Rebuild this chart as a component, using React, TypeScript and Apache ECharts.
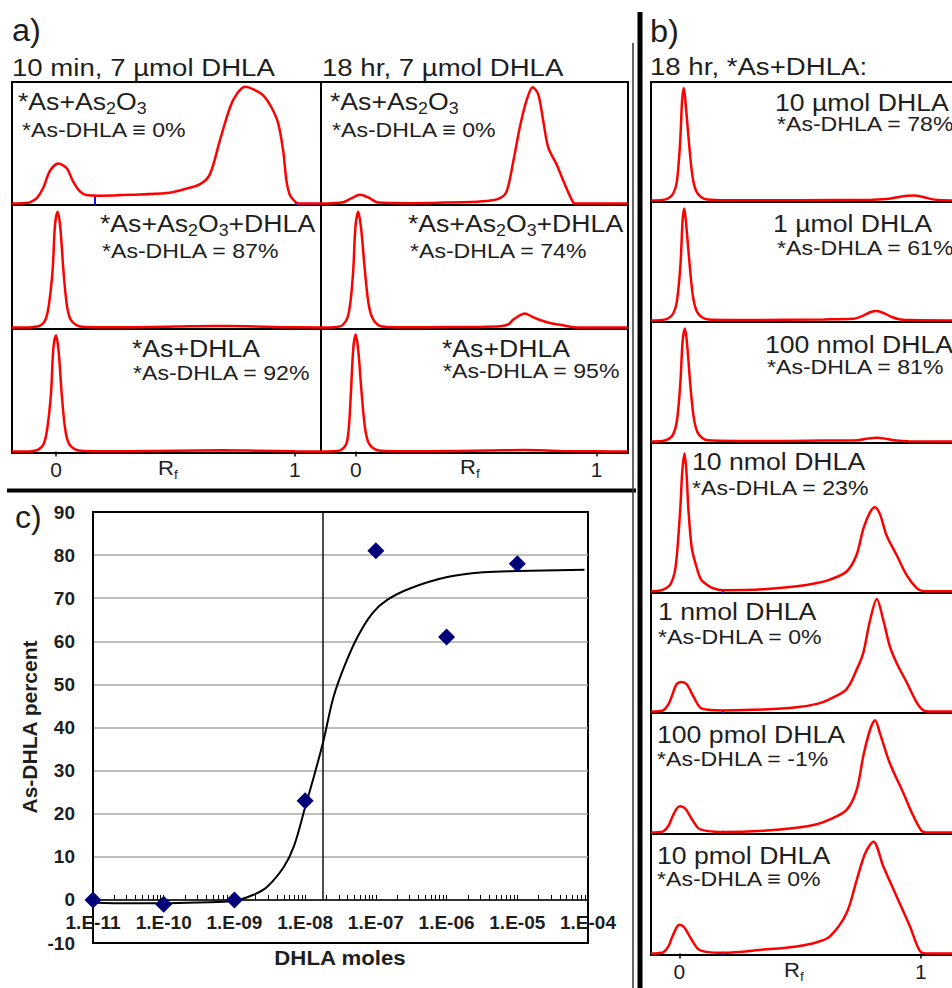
import React, { useEffect, useRef } from 'react';
import * as echarts from 'echarts';

const FONT = '"Liberation Sans", Arial, Helvetica, sans-serif';
const TEXT = '#1e1e1e';
const RED = '#ff0000';

// ---------- a) chromatograms  [Rf, relative intensity %] ----------
const trace10minAsAs2O3 = [[-0.184,0],[-0.13,0.5],[-0.109,1],[-0.08,4.5],[-0.053,13],[-0.025,27],[0.01,33],[0.045,29],[0.072,18],[0.1,10],[0.128,7],[0.184,6.5],[0.32,7.2],[0.463,8.6],[0.53,11.4],[0.603,16],[0.644,24],[0.686,52],[0.728,79],[0.756,90],[0.791,96],[0.826,94],[0.867,89],[0.902,79],[0.93,66],[0.951,43],[0.965,18],[0.979,7],[1.0,1.7],[1.014,0],[1.109,0]];
const trace10minAsAs2O3DHLA = [[-0.184,0],[-0.1,0.3],[-0.067,1.5],[-0.045,6],[-0.03,18],[-0.014,47],[-0.004,84],[0.007,94.5],[0.018,82],[0.031,47],[0.045,19],[0.06,7],[0.087,1.8],[0.12,0.5],[0.3,0.3],[0.5,0.8],[0.65,1.3],[0.8,1.0],[0.95,0.3],[1.109,0]];
const trace10minAsDHLA = [[-0.184,0],[-0.1,0.3],[-0.074,1.5],[-0.052,6],[-0.037,18],[-0.021,47],[-0.011,84],[0,95],[0.011,82],[0.024,47],[0.038,19],[0.053,7],[0.08,1.8],[0.12,0.5],[0.3,0.3],[0.5,0.7],[0.7,1.0],[0.85,0.6],[1.0,0.2],[1.109,0]];
const trace18hrAsAs2O3 = [[-0.145,0],[-0.1,0.3],[-0.053,1],[-0.018,4.4],[0.017,7.2],[0.051,5],[0.093,0.8],[0.224,0.3],[0.432,1],[0.543,2],[0.598,4.4],[0.626,10],[0.654,35],[0.681,63],[0.709,85],[0.734,95.6],[0.757,90],[0.778,68],[0.799,46],[0.834,32],[0.868,15.6],[0.903,0.8],[0.917,0],[1.13,0]];
const trace18hrAsAs2O3DHLA = [[-0.145,0],[-0.08,0.5],[-0.055,2],[-0.035,8],[-0.022,22],[-0.011,47],[-0.002,82],[0.01,94.5],[0.022,80],[0.037,47],[0.052,20],[0.068,8],[0.093,2],[0.13,0.5],[0.3,0.3],[0.5,0.5],[0.6,1],[0.633,2.5],[0.654,6.5],[0.68,10],[0.702,11.5],[0.73,9],[0.771,5.7],[0.81,3.5],[0.855,2],[0.896,0.5],[0.95,0],[1.13,0]];
const trace18hrAsDHLA = [[-0.145,0],[-0.08,0.4],[-0.06,1.5],[-0.04,6],[-0.03,18],[-0.021,47],[-0.011,84],[-0.001,95.5],[0.01,82],[0.024,47],[0.038,19],[0.053,7],[0.08,1.8],[0.12,0.5],[0.3,0.3],[0.55,0.8],[0.7,1.2],[0.85,0.5],[1.0,0.2],[1.13,0]];

// ---------- b) chromatograms ----------
const trace10umol = [[-0.117,0],[-0.07,0.5],[-0.045,2],[-0.025,6],[-0.01,16],[0.003,47],[0.012,85],[0.019,95],[0.028,78],[0.041,47],[0.055,20],[0.07,8],[0.09,3],[0.115,1],[0.2,0.3],[0.5,0.3],[0.8,0.8],[0.87,1.5],[0.92,3.5],[0.97,4.2],[1.01,3],[1.05,1],[1.09,0.3],[1.208,0]];
const trace1umol = [[-0.117,0],[-0.07,0.5],[-0.045,2],[-0.025,6],[-0.01,16],[0.005,47],[0.014,85],[0.021,94.5],[0.03,78],[0.043,47],[0.057,20],[0.072,8],[0.092,3],[0.12,1],[0.3,0.5],[0.6,1],[0.72,1.5],[0.76,4],[0.79,7],[0.818,8],[0.85,6],[0.88,3],[0.91,1.2],[0.96,0.4],[1.208,0]];
const trace100nmol = [[-0.117,0],[-0.07,0.5],[-0.045,2],[-0.025,6],[-0.01,17],[0.004,47],[0.014,84],[0.024,94.5],[0.033,80],[0.046,47],[0.06,20],[0.075,8],[0.095,3],[0.12,1],[0.3,0.4],[0.6,0.8],[0.74,1.2],[0.78,2.5],[0.818,3.2],[0.86,2.2],[0.9,0.8],[0.95,0.3],[1.208,0]];
const trace10nmol = [[-0.117,0],[-0.079,0.5],[-0.055,2],[-0.037,4.5],[-0.02,12],[-0.01,24],[0.004,55],[0.013,82],[0.022,93],[0.03,80],[0.038,55],[0.052,29],[0.073,15.5],[0.09,8],[0.114,4.4],[0.14,2],[0.182,0.7],[0.347,1.3],[0.486,3.3],[0.57,5.5],[0.624,7.8],[0.693,13.3],[0.734,24.4],[0.762,42],[0.789,53],[0.81,56.7],[0.831,52],[0.858,37.8],[0.9,24.4],[0.941,11],[0.982,2.2],[1.01,0],[1.208,0]];
const trace1nmol = [[-0.117,0],[-0.09,0.3],[-0.066,1],[-0.045,6],[-0.031,13],[-0.011,23],[0.01,25],[0.031,23],[0.058,13],[0.086,3.6],[0.12,1.5],[0.182,1],[0.348,1.7],[0.486,3.6],[0.57,6.5],[0.624,10.6],[0.693,19],[0.735,35.6],[0.762,49.5],[0.79,77],[0.818,95],[0.845,77],[0.872,55],[0.9,41],[0.942,24.5],[0.983,7.8],[1.011,1],[1.04,0],[1.208,0]];
const trace100pmol = [[-0.117,0],[-0.09,0.3],[-0.066,1],[-0.045,5.5],[-0.031,12],[-0.011,20],[0.004,22],[0.025,20],[0.05,12],[0.08,3.5],[0.12,1.2],[0.182,0.5],[0.348,1.5],[0.486,4],[0.57,7],[0.624,11],[0.693,19],[0.735,36],[0.762,64],[0.79,86],[0.811,94],[0.831,83],[0.872,58],[0.928,33],[0.969,14],[1.004,1.4],[1.03,0],[1.208,0]];
const trace10pmol = [[-0.117,0],[-0.09,0.3],[-0.066,1],[-0.045,6],[-0.031,13],[-0.011,22],[0.0,24],[0.02,22],[0.05,12],[0.08,3.5],[0.12,1.2],[0.182,0.6],[0.348,3.3],[0.486,6],[0.57,9.5],[0.624,14.4],[0.693,34],[0.735,61.7],[0.77,84],[0.804,93.6],[0.845,72.8],[0.9,47.8],[0.955,22.8],[0.997,2],[1.03,0],[1.208,0]];

const rfTickValues = [0, 1];

// ---------- c) dose response ----------
const dhlaMoles = [1e-11, 1e-10, 1e-9, 1e-8, 1e-7, 1e-6, 1e-5];
const asDhlaPercent = [0, -1, 0, 23, 81, 61, 78];
const fitLog10Moles = [-11, -10.5, -10, -9.5, -9, -8.73, -8.54, -8.3, -8.16, -8, -7.87, -7.74, -7.6, -7.45, -7.26, -7.05, -6.84, -6.51, -5.99, -5.48, -5, -4.05];
const fitPercent = [-0.6, -0.8, -0.8, -0.6, -0.2, 1.2, 3, 7.7, 12.4, 21.5, 29, 37, 47, 54, 61, 66.5, 69.6, 72.3, 74.9, 76, 76.3, 76.6];
const midpointMoles = 1.8e-8;
const xDecades = [-11, -10, -9, -8, -7, -6, -5, -4];
const xTickLabels = ['1.E-11', '1.E-10', '1.E-09', '1.E-08', '1.E-07', '1.E-06', '1.E-05', '1.E-04'];
const minorMultipliers = [1, 2, 3, 4, 5, 6, 7, 8, 9];
const yMin = -10;
const yMax = 90;

// ---------- labels ----------
const headA = ['10 min, 7 µmol DHLA', '18 hr, 7 µmol DHLA'];
const headB = '18 hr, *As+DHLA:';
const aLine1 = ['{m|*As+As}{s|2}{m|O}{s|3}', '{m|*As+As}{s|2}{m|O}{s|3}{m|+DHLA}', '{m|*As+DHLA}'];
const aLine2Left = ['*As-DHLA ≡ 0%', '*As-DHLA = 87%', '*As-DHLA = 92%'];
const aLine2Right = ['*As-DHLA ≡ 0%', '*As-DHLA = 74%', '*As-DHLA = 95%'];
const bLine1 = ['10 µmol DHLA', '1 µmol DHLA', '100 nmol DHLA', '10 nmol DHLA', '1 nmol DHLA', '100 pmol DHLA', '10 pmol DHLA'];
const bLine2 = ['*As-DHLA = 78%', '*As-DHLA = 61%', '*As-DHLA = 81%', '*As-DHLA = 23%', '*As-DHLA = 0%', '*As-DHLA = -1%', '*As-DHLA ≡ 0%'];

// ---------- layout ----------
const aCols = [
  { left: 12, width: 309, xmin: -0.184, xmax: 1.109, traces: [trace10minAsAs2O3, trace10minAsAs2O3DHLA, trace10minAsDHLA] },
  { left: 321, width: 307, xmin: -0.145, xmax: 1.13, traces: [trace18hrAsAs2O3, trace18hrAsAs2O3DHLA, trace18hrAsDHLA] },
];
const aRows = [{ top: 82, height: 123 }, { top: 205, height: 124 }, { top: 329, height: 124 }];
const aTextPos = [
  [[18, 101, 22, 130], [100, 223, 102, 250.5], [132, 348, 133, 372.5]],
  [[330, 101, 332, 129.5], [408, 223, 410, 250.5], [442, 348, 443, 371]],
];
const bCol = { left: 651, width: 320, xmin: -0.117, xmax: 1.208 };
const bRows = [[82, 120], [202, 120], [322, 121], [443, 150], [593, 120], [713, 121], [834, 121]];
const bTraces = [trace10umol, trace1umol, trace100nmol, trace10nmol, trace1nmol, trace100pmol, trace10pmol];
const bTextPos = [[775, 102.5, 777, 123.5], [773, 223, 777, 247.5], [765, 344, 767, 366.5], [692, 461.5, 692, 487.5], [658, 611.5, 658, 636.5], [657, 734.5, 657, 758.5], [657, 855, 657, 878.5]];
const cGrid = { left: 93, top: 512, width: 495, height: 431 };

function txt(x: number, y: number, text: string, size: number, sx: number, extra: any = {}) {
  return {
    type: 'text', x, y, scaleX: sx, scaleY: 1, z: 100, silent: true,
    style: {
      text, fontSize: size, fontFamily: FONT, fill: TEXT,
      align: 'left', verticalAlign: 'middle', textAlign: 'left', textVerticalAlign: 'middle',
      ...extra,
    },
  };
}
function richLine(x: number, y: number, text: string, size: number, subSize: number, sx: number, lh: number, extra: any = {}) {
  return txt(x, y, text, size, sx, {
    rich: {
      m: { fontSize: size, fontFamily: FONT, fill: TEXT, lineHeight: lh, verticalAlign: 'middle' },
      s: { fontSize: subSize, fontFamily: FONT, fill: TEXT, verticalAlign: 'bottom' },
      r: { fontSize: size, fontFamily: FONT, fill: TEXT, lineHeight: lh, verticalAlign: 'middle' },
      f: { fontSize: subSize, fontFamily: FONT, fill: TEXT, verticalAlign: 'bottom' },
    },
    ...extra,
  });
}

function buildOption() {
  const grid: any[] = [];
  const xAxis: any[] = [];
  const yAxis: any[] = [];
  const series: any[] = [];
  const graphics: any[] = [];

  const addTracePanel = (left: number, top: number, width: number, height: number, xmin: number, xmax: number, data: number[][], bottom: boolean, marks: any[]) => {
    const i = grid.length;
    grid.push({ left, top, width, height, show: true, borderColor: '#000', borderWidth: 2, backgroundColor: 'transparent', outerBoundsMode: 'none', containLabel: false });
    xAxis.push({
      gridIndex: i, type: 'value', min: xmin, max: xmax,
      axisLine: { show: false }, splitLine: { show: false },
      axisTick: { show: bottom, customValues: rfTickValues, length: 5, inside: false, lineStyle: { color: '#000', width: 1.5 } },
      axisLabel: { show: bottom, customValues: rfTickValues, margin: 6, fontSize: 21, color: TEXT, fontFamily: FONT },
    });
    yAxis.push({ gridIndex: i, type: 'value', min: -1.2, max: 100, show: false, splitLine: { show: false } });
    series.push({
      type: 'line', xAxisIndex: i, yAxisIndex: i, data, symbol: 'none', showSymbol: false,
      smooth: 0.3, silent: true, lineStyle: { color: RED, width: 2.5 }, z: 5,
      markLine: marks.length ? { silent: true, symbol: ['none', 'none'], label: { show: false }, lineStyle: { color: '#1010ff', width: 2, type: 'solid' }, data: marks } : undefined,
    });
  };

  // panel a
  aCols.forEach((col, ci) => {
    aRows.forEach((row, ri) => {
      const marks = ci === 0 && ri === 0
        ? [[{ coord: [0.163, -1] }, { coord: [0.163, 6] }], [{ coord: [1.0, -0.3] }, { coord: [1.109, -0.3] }]]
        : [];
      addTracePanel(col.left, row.top, col.width, row.height, col.xmin, col.xmax, col.traces[ri], ri === 2, marks);
      const p = aTextPos[ci][ri];
      graphics.push(richLine(p[0], p[1], aLine1[ri], 24, 16, 1.11, 32));
      graphics.push(txt(p[2], p[3], (ci === 0 ? aLine2Left : aLine2Right)[ri], 21, 1.1));
    });
  });
  // panel b
  bRows.forEach((row, ri) => {
    const marks = ri >= 3 ? [[{ coord: [0.18, -1.2] }, { coord: [0.18, 1.5] }]] : [];
    addTracePanel(bCol.left, row[0], bCol.width, row[1], bCol.xmin, bCol.xmax, bTraces[ri], ri === 6, marks);
    const p = bTextPos[ri];
    graphics.push(txt(p[0], p[1], bLine1[ri], 24, 1.11));
    graphics.push(txt(p[2], p[3], bLine2[ri], 21, 1.1));
  });

  // panel c
  const ci = grid.length;
  grid.push({ ...cGrid, show: true, borderColor: '#000', borderWidth: 2, backgroundColor: 'transparent', outerBoundsMode: 'none', containLabel: false });
  const tickVals: number[] = [];
  xDecades.forEach((d) => {
    minorMultipliers.forEach((m) => {
      const v = m * Math.pow(10, d);
      if (v <= 1.0001e-4) tickVals.push(v);
    });
  });
  // x axis drawn at y = 0 : shift the bottom axis up by the height of (0 - yMin)
  const zeroOffset = -cGrid.height * (0 - yMin) / (yMax - yMin);
  xAxis.push({
    gridIndex: ci, type: 'log', logBase: 10, min: 1e-11, max: 1e-4, z: 4,
    position: 'bottom', offset: zeroOffset,
    axisLine: { show: true, onZero: false, lineStyle: { color: '#000', width: 1.5 } },
    axisTick: { show: true, inside: true, length: 5, customValues: tickVals, lineStyle: { color: '#000', width: 1 } },
    axisLabel: {
      show: true, customValues: xDecades.map((d) => Math.pow(10, d)), margin: 13, fontSize: 19, fontWeight: 'bold', color: TEXT, fontFamily: FONT,
      formatter: (v: number) => xTickLabels[Math.round(Math.log10(v)) - xDecades[0]] ?? '',
    },
    splitLine: { show: false }, minorTick: { show: false },
  });
  yAxis.push({
    gridIndex: ci, type: 'value', min: yMin, max: yMax, interval: 10,
    axisLine: { show: true, onZero: false, lineStyle: { color: '#000', width: 2 } },
    axisTick: { show: false },
    axisLabel: { margin: 18, fontSize: 19, fontWeight: 'bold', color: TEXT, fontFamily: FONT },
    splitLine: { show: true, showMinLine: false, showMaxLine: false, lineStyle: { color: '#a8a8a8', width: 1.5 } },
  });
  series.push({
    type: 'line', xAxisIndex: ci, yAxisIndex: ci, smooth: 0.35, symbol: 'none', showSymbol: false, silent: true, z: 6,
    data: fitLog10Moles.map((e, i) => [Math.pow(10, e), fitPercent[i]]),
    lineStyle: { color: '#000', width: 2 },
    markLine: { silent: true, symbol: ['none', 'none'], label: { show: false }, lineStyle: { color: '#111', width: 1.5, type: 'solid' }, data: [[{ coord: [midpointMoles, 90] }, { coord: [midpointMoles, 0] }]] },
  });
  series.push({
    type: 'scatter', xAxisIndex: ci, yAxisIndex: ci, symbol: 'diamond', symbolSize: 17, silent: true, z: 7,
    itemStyle: { color: '#00007a', opacity: 1 },
    data: dhlaMoles.map((m, i) => [m, asDhlaPercent[i]]),
  });

  // headings, axis names
  graphics.push(txt(12, 30.5, 'a)', 31, 1.05));
  graphics.push(txt(650, 31, 'b)', 31, 1.05));
  graphics.push(txt(15, 517, 'c)', 32, 1.0));
  graphics.push(txt(12, 68, headA[0], 24, 1.15));
  graphics.push(txt(322, 68, headA[1], 24, 1.15));
  graphics.push(txt(650, 66.5, headB, 24, 1.15));
  graphics.push(richLine(158, 468, '{r|R}{f|f}', 21, 13, 1.05, 26));
  graphics.push(richLine(460, 467.5, '{r|R}{f|f}', 21, 13, 1.05, 26));
  graphics.push(richLine(784, 970.5, '{r|R}{f|f}', 21, 13, 1.05, 26));
  graphics.push(txt(340, 957.5, 'DHLA moles', 21, 1.06, { fontWeight: 'bold', align: 'center', textAlign: 'center' }));
  graphics.push({
    type: 'text', x: 29, y: 727, rotation: Math.PI / 2, z: 100, silent: true,
    style: { text: 'As-DHLA percent', fontSize: 21, fontWeight: 'bold', fontFamily: FONT, fill: TEXT, align: 'center', verticalAlign: 'middle', textAlign: 'center', textVerticalAlign: 'middle' },
  });

  // frame lines
  const ln = (x1: number, y1: number, x2: number, y2: number, w: number, c = '#000') => ({ type: 'line', z: 90, silent: true, shape: { x1, y1, x2, y2 }, style: { stroke: c, lineWidth: w } });
  graphics.push(ln(7, 490.5, 636, 490.5, 4));
  graphics.push(ln(633, 43, 633, 988, 1.5, '#333'));
  graphics.push(ln(640, 12, 640, 988, 5));

  return {
    animation: false,
    backgroundColor: '#fff',
    grid, xAxis, yAxis, series,
    graphic: { elements: graphics },
  };
}

export default function App() {
  const ref = useRef<HTMLDivElement>(null);
  useEffect(() => {
    if (!ref.current) return;
    const chart = echarts.init(ref.current, undefined, { renderer: 'svg' });
    chart.setOption(buildOption() as any);
    return () => chart.dispose();
  }, []);
  return <div ref={ref} style={{ position: 'absolute', left: 0, top: 0, width: 952, height: 988, background: '#fff' }} />;
}
